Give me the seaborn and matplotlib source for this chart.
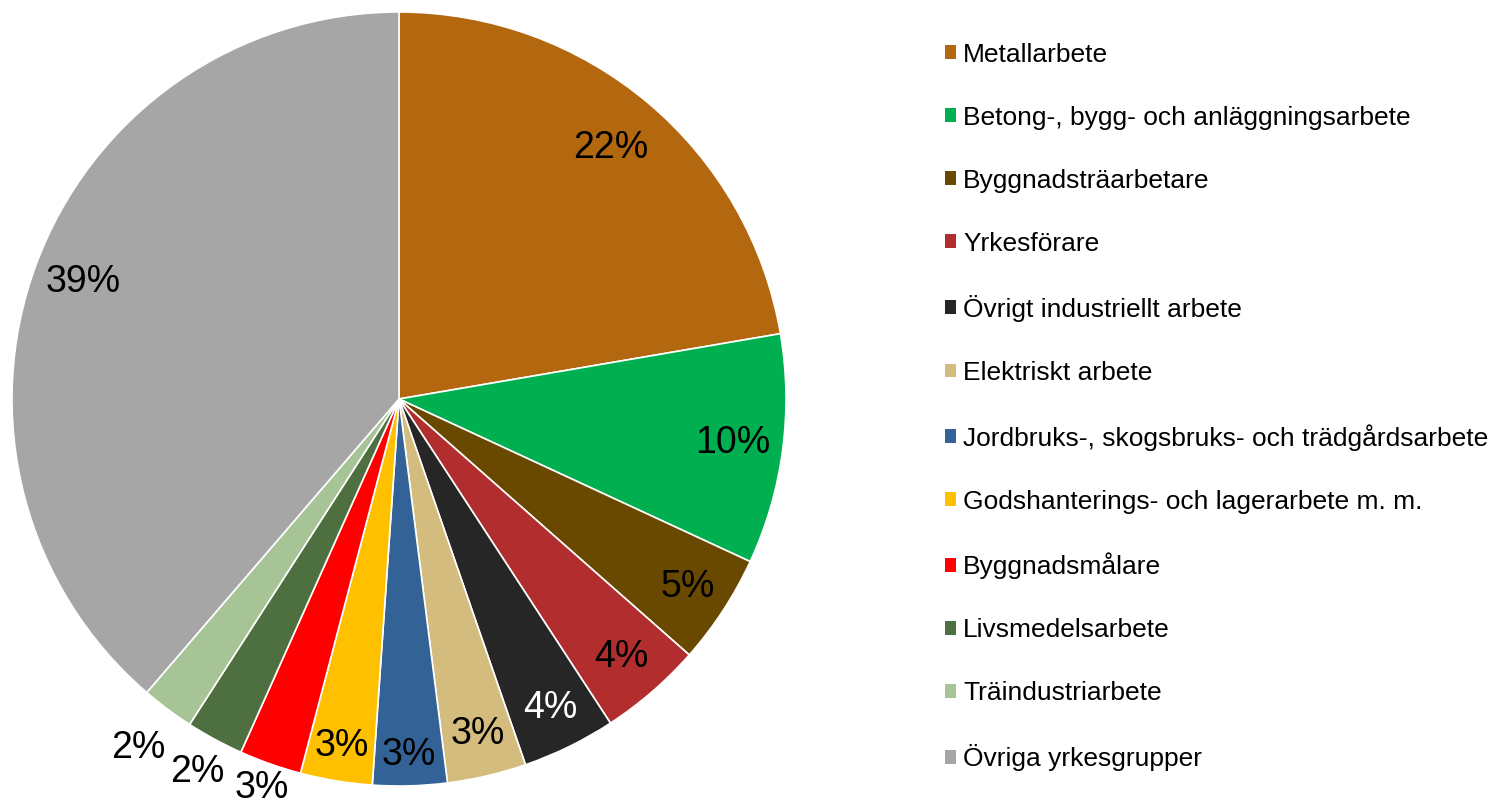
import matplotlib
matplotlib.use("Agg")
import matplotlib.pyplot as plt
import seaborn as sns
import numpy as np
from matplotlib.patches import Patch

categories = [
    "Metallarbete",
    "Betong-, bygg- och anläggningsarbete",
    "Byggnadsträarbetare",
    "Yrkesförare",
    "Övrigt industriellt arbete",
    "Elektriskt arbete",
    "Jordbruks-, skogsbruks- och trädgårdsarbete",
    "Godshanterings- och lagerarbete m. m.",
    "Byggnadsmålare",
    "Livsmedelsarbete",
    "Träindustriarbete",
    "Övriga yrkesgrupper",
]
shares = [22.3, 9.6, 4.6, 4.3, 3.9, 3.3, 3.1, 3.0, 2.6, 2.4, 2.2, 38.7]
colors = ["#B3670F", "#00B050", "#694800", "#B22E2E", "#262626", "#D4BB7E",
          "#336396", "#FFC000", "#FF0000", "#4E7040", "#A7C496", "#A6A6A6"]
label_colors = ["black", "black", "black", "black", "white", "black",
                "black", "black", "black", "black", "black", "black"]
label_r = [0.85, 0.87, 0.89, 0.88, 0.89, 0.89, 0.92, 0.91, 1.065, 1.095, 1.125, 0.87]

sns.set_theme(style="white")
plt.rcParams["font.family"] = ["Liberation Sans", "DejaVu Sans"]
plt.rcParams["text.color"] = "black"

W, H = 1496, 808
fig = plt.figure(figsize=(W / 100, H / 100), dpi=100)
cx, cy, R = 399, 399, 387
ax = fig.add_axes([(cx - R) / W, (H - cy - R) / H, 2 * R / W, 2 * R / H])

palette = sns.color_palette(colors)
wedges, _ = ax.pie(shares, colors=palette, startangle=90, counterclock=False,
                   wedgeprops=dict(edgecolor="white", linewidth=1.2))
ax.set_xlim(-1, 1)
ax.set_ylim(-1, 1)
ax.set_aspect("equal")
ax.axis("off")

total = sum(shares)
for w, v, r, c in zip(wedges, shares, label_r, label_colors):
    ang = np.deg2rad((w.theta1 + w.theta2) / 2)
    ax.text(r * np.cos(ang), r * np.sin(ang), f"{100 * v / total:.0f}%",
            ha="center", va="center", fontsize=27, color=c, clip_on=False)

handles = [Patch(facecolor=col, edgecolor="none") for col in palette]
leg = fig.legend(handles, categories, loc="center left",
                 bbox_to_anchor=(945 / W, 1 - 407 / H), frameon=False,
                 fontsize=19, handlelength=0.42, handleheight=0.42,
                 handletextpad=0.27, labelspacing=1.48, borderpad=0, borderaxespad=0)
for t in leg.get_texts():
    t.set_color("black")

fig.savefig("out.png", dpi=100)
